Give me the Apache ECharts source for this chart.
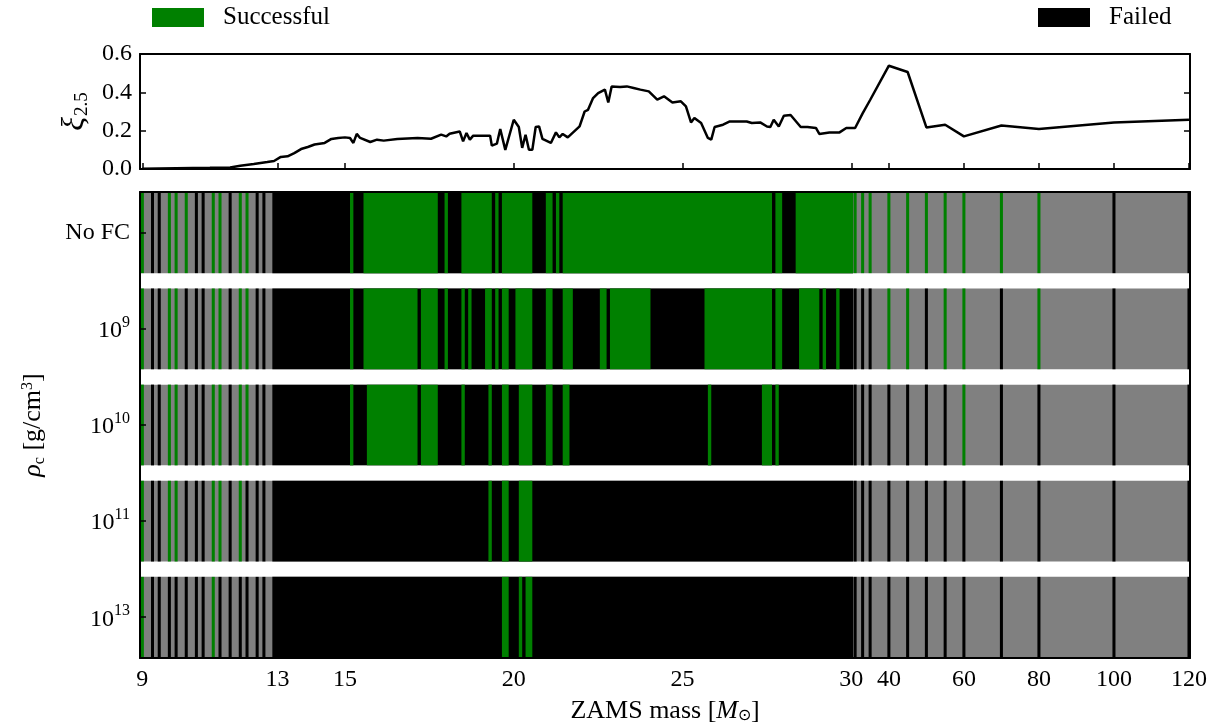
<!DOCTYPE html>
<html>
<head>
<meta charset="utf-8">
<title>Explosion outcome vs ZAMS mass</title>
<script src="https://cdn.jsdelivr.net/npm/echarts@6/dist/echarts.min.js"></script>
<style>
html, body { margin: 0; padding: 0; background: #fff; }
#chart { width: 1214px; height: 726px; }
</style>
</head>
<body>
<div id="chart"></div>
<script>
// compactness xi_2.5 against ZAMS mass (top panel)
const xiMass = [9.0, 10.0, 11.0, 11.6, 11.9, 12.3, 12.7, 12.9, 13.1, 13.3, 13.5, 13.7, 13.9, 14.1, 14.4, 14.6, 14.8, 15.0,
    15.15, 15.25, 15.35, 15.45, 15.75, 15.95, 16.15, 16.55, 17.15, 17.55, 17.85, 18.0, 18.1, 18.4, 18.5, 18.6, 18.7, 18.8,
    19.3, 19.35, 19.5, 19.6, 19.75, 20.0, 20.15, 20.25, 20.35, 20.45, 20.55, 20.65, 20.75, 20.85, 21.1, 21.25, 21.35, 21.45,
    21.6, 21.95, 22.1, 22.2, 22.35, 22.5, 22.7, 22.8, 22.9, 23.15, 23.35, 23.55, 23.75, 24.0, 24.25, 24.45, 24.7, 24.95,
    25.1, 25.25, 25.35, 25.55, 25.75, 25.85, 25.95, 26.2, 26.4, 26.9, 27.05, 27.3, 27.5, 27.6, 27.7, 27.85, 28.0, 28.2,
    28.5, 28.7, 28.95, 29.05, 29.35, 29.65, 29.85, 30.0, 31, 33, 35, 40, 45, 50, 55, 60, 70, 80, 100, 120];
const xiValue = [0.001, 0.004, 0.006, 0.008, 0.017, 0.026, 0.036, 0.042, 0.063, 0.066, 0.083, 0.104, 0.115, 0.128, 0.136, 0.157, 0.162, 0.165,
    0.162, 0.136, 0.183, 0.162, 0.141, 0.153, 0.148, 0.157, 0.162, 0.158, 0.179, 0.170, 0.184, 0.196, 0.144, 0.188, 0.153, 0.174,
    0.174, 0.122, 0.132, 0.209, 0.100, 0.257, 0.219, 0.110, 0.179, 0.100, 0.100, 0.219, 0.222, 0.157, 0.136, 0.191, 0.165, 0.183,
    0.165, 0.222, 0.300, 0.309, 0.370, 0.396, 0.414, 0.347, 0.431, 0.428, 0.431, 0.423, 0.414, 0.405, 0.362, 0.379, 0.347, 0.353,
    0.327, 0.243, 0.266, 0.240, 0.162, 0.153, 0.219, 0.231, 0.248, 0.248, 0.240, 0.243, 0.222, 0.219, 0.257, 0.222, 0.278, 0.282,
    0.219, 0.219, 0.214, 0.183, 0.191, 0.191, 0.214, 0.214, 0.214, 0.290, 0.360, 0.539, 0.506, 0.217, 0.231, 0.170, 0.227, 0.209, 0.243, 0.257];

const tickMasses = [9, 13, 15, 20, 25, 30, 40, 60, 80, 100, 120];
const xiTicks = [0, 0.2, 0.4, 0.6];
const rowLabels = ['No FC', '{b|10}{sup|9}', '{b|10}{sup|10}', '{b|10}{sup|11}', '{b|10}{sup|13}'];

// outcome per central density row, S = successful, F = failed
const lowMasses = [9.0, 9.3, 9.5, 9.8, 10.0, 10.3, 10.6, 10.8, 11.1, 11.3, 11.6, 11.9, 12.1, 12.4, 12.6];
const lowOutcome = [
    'SFFSSSFFSSFSSFF',
    'SFFSSFFFSSFSSFF',
    'SFFSSFFFSSFSSFF',
    'SFFSSFFFSSFSFFF',
    'SFFFFFFFSFFFFFF'
];
// dense grid (0.1 Msun steps): failed unless inside a successful run
const denseRange = [12.9, 30.0];
const denseSuccess = [
    [[15.2, 15.2], [15.6, 17.7], [18.0, 18.0], [18.5, 19.3], [19.5, 19.5], [19.7, 20.5], [21.0, 21.1], [21.3, 21.3],
        [21.5, 27.6], [27.8, 27.9], [28.4, 30.0]],
    [[15.2, 15.2], [15.6, 17.1], [17.3, 17.7], [18.0, 18.0], [18.5, 18.5], [18.7, 18.7], [19.2, 19.3], [19.5, 19.5],
        [19.7, 19.8], [20.1, 20.5], [21.0, 21.1], [21.5, 21.7], [22.6, 22.7], [22.9, 24.0], [25.7, 27.6], [27.8, 27.9],
        [28.5, 29.0], [29.2, 29.2], [29.6, 29.6]],
    [[15.2, 15.2], [15.7, 17.1], [17.3, 17.7], [18.5, 18.5], [19.3, 19.3], [19.7, 19.8], [20.2, 20.5], [21.0, 21.1],
        [21.5, 21.6], [25.8, 25.8], [27.4, 27.6], [27.8, 27.8]],
    [[19.3, 19.3], [19.7, 19.8], [20.2, 20.5]],
    [[19.7, 19.8], [20.2, 20.2], [20.4, 20.5]]
];
const highMasses = [31, 33, 35, 40, 45, 50, 55, 60, 70, 80, 100, 120];
const highOutcome = [
    'SSSSSSSSSSFF',
    'FFFSSFSSFSFF',
    'FFFFFFFSFFFF',
    'FFFFFFFFFFFF',
    'FFFFFFFFFFFF'
];

const FONT = 'Liberation Serif';
const GREEN = '#008000';
const X_MIN = 8.93, X_MAX = 40.03;
const Y_MIN = -0.424, Y_MAX = 4.424;
const ROW_H = 0.84;
const SLOT = 0.05;   // half of a dense model slot
const LINE = 0.045;  // half width of an isolated model line

// above 30 Msun the mass axis is squeezed by a factor 9
function toU(m) { return m <= 30 ? m : 30 + (m - 30) / 9; }
function fromU(u) { return u <= 30 ? u : 30 + (u - 30) * 9; }

const bgData = [], failData = [], okData = [];
for (let r = 0; r < rowLabels.length; r++) {
    bgData.push([X_MIN, X_MAX, r]);
    failData.push([toU(denseRange[0]) - SLOT, toU(denseRange[1]) + SLOT, r]);
    denseSuccess[r].forEach(function(run) {
        okData.push([toU(run[0]) - SLOT, toU(run[1]) + SLOT, r]);
    });
    lowMasses.forEach(function(m, i) {
        (lowOutcome[r][i] === 'S' ? okData : failData).push([toU(m) - LINE, toU(m) + LINE, r]);
    });
    highMasses.forEach(function(m, i) {
        (highOutcome[r][i] === 'S' ? okData : failData).push([toU(m) - LINE, toU(m) + LINE, r]);
    });
}

function renderRect(params, api) {
    const a = api.coord([api.value(0), api.value(2) - ROW_H / 2]);
    const b = api.coord([api.value(1), api.value(2) + ROW_H / 2]);
    return {
        type: 'rect',
        shape: { x: a[0], y: Math.min(a[1], b[1]), width: b[0] - a[0], height: Math.abs(b[1] - a[1]) },
        style: { fill: api.visual('color') }
    };
}

const tickU = tickMasses.map(toU);
const txt = { fontFamily: FONT, fontSize: 24, color: '#000' };
const frameLine = { show: true, onZero: false, lineStyle: { color: '#000', width: 2 } };
const noLine = { show: false };
const rich = {
    b: { fontFamily: FONT, fontSize: 24, color: '#000', verticalAlign: 'bottom' },
    sup: { fontFamily: FONT, fontSize: 16, color: '#000', verticalAlign: 'top', padding: [0, 0, 12, 0] },
    i: { fontFamily: FONT, fontSize: 26, color: '#000', fontStyle: 'italic', verticalAlign: 'top' },
    s: { fontFamily: FONT, fontSize: 16, color: '#000', verticalAlign: 'bottom', padding: [10, 0, 0, 0] },
    n: { fontFamily: FONT, fontSize: 26, color: '#000', verticalAlign: 'top' },
    xi: { fontFamily: FONT, fontSize: 32, color: '#000', fontStyle: 'italic', verticalAlign: 'top' },
    xs: { fontFamily: FONT, fontSize: 19, color: '#000', verticalAlign: 'bottom', padding: [14, 0, 0, 1] }
};
const legendText = { fontFamily: FONT, fontSize: 25, color: '#000', padding: [0, 0, 0, 14] };

const chart = echarts.init(document.getElementById('chart'));
chart.setOption({
    animation: false,
    backgroundColor: '#fff',
    legend: [{
        data: ['Successful'], left: 152, top: 5, padding: 0, icon: 'rect', itemWidth: 52, itemHeight: 19,
        textStyle: legendText
    }, {
        data: ['Failed'], left: 1038, top: 5, padding: 0, icon: 'rect', itemWidth: 52, itemHeight: 19,
        textStyle: legendText
    }],
    grid: [
        { left: 140, right: 24, top: 54, height: 115, outerBoundsMode: 'none' },
        { left: 140, right: 24, top: 192, height: 466, outerBoundsMode: 'none' }
    ],
    xAxis: [{
        gridIndex: 0, type: 'value', min: X_MIN, max: X_MAX, position: 'bottom', z: 10,
        axisLine: frameLine, splitLine: noLine, axisLabel: noLine,
        axisTick: { show: true, inside: true, length: 6, customValues: tickU, lineStyle: { color: '#000', width: 1.5 } }
    }, {
        gridIndex: 0, type: 'value', min: X_MIN, max: X_MAX, position: 'top', z: 10,
        axisLine: frameLine, splitLine: noLine, axisLabel: noLine, axisTick: noLine
    }, {
        gridIndex: 1, type: 'value', min: X_MIN, max: X_MAX, position: 'bottom', z: 10,
        axisLine: frameLine, splitLine: noLine, axisTick: noLine,
        axisLabel: Object.assign({
            customValues: tickU, margin: 10,
            formatter: function(v) { return String(Math.round(fromU(v))); }
        }, txt),
        name: '{n|ZAMS mass [}{i|M}{s|\u2299}{n|]}', nameLocation: 'middle', nameGap: 40,
        nameTextStyle: Object.assign({ rich: rich }, txt)
    }, {
        gridIndex: 1, type: 'value', min: X_MIN, max: X_MAX, position: 'top', z: 10,
        axisLine: frameLine, splitLine: noLine, axisLabel: noLine, axisTick: noLine
    }],
    yAxis: [{
        gridIndex: 0, type: 'value', min: 0, max: 0.6, interval: 0.2, position: 'left', z: 10,
        axisLine: frameLine, splitLine: noLine,
        axisTick: { show: true, inside: true, length: 6, customValues: xiTicks, lineStyle: { color: '#000', width: 1.5 } },
        axisLabel: Object.assign({ margin: 8, formatter: function(v) { return v.toFixed(1); } }, txt),
        name: '{xi|\u03be}{xs|2.5}', nameLocation: 'middle', nameGap: 46, nameRotate: 90,
        nameTextStyle: Object.assign({ rich: rich }, txt)
    }, {
        gridIndex: 0, type: 'value', min: 0, max: 0.6, interval: 0.2, position: 'right', z: 10,
        axisLine: frameLine, splitLine: noLine, axisLabel: noLine,
        axisTick: { show: true, inside: true, length: 6, customValues: xiTicks, lineStyle: { color: '#000', width: 1.5 } }
    }, {
        gridIndex: 1, type: 'value', min: Y_MIN, max: Y_MAX, inverse: true, position: 'left', z: 10,
        axisLine: frameLine, splitLine: noLine,
        axisTick: { show: true, inside: true, length: 6, customValues: [0, 1, 2, 3, 4], lineStyle: { color: '#000', width: 1.5 } },
        axisLabel: Object.assign({
            margin: 10, customValues: [0, 1, 2, 3, 4], rich: rich,
            formatter: function(v) { return rowLabels[Math.round(v)]; }
        }, txt),
        name: '{i|\u03c1}{s|c}{n| [g/cm}{sup|3}{n|]}', nameLocation: 'middle', nameGap: 92, nameRotate: 90,
        nameTextStyle: Object.assign({ rich: rich }, txt)
    }, {
        gridIndex: 1, type: 'value', min: Y_MIN, max: Y_MAX, inverse: true, position: 'right', z: 10,
        axisLine: frameLine, splitLine: noLine, axisLabel: noLine, axisTick: noLine
    }],
    series: [{
        name: 'xi', type: 'line', xAxisIndex: 0, yAxisIndex: 0, showSymbol: false,
        lineStyle: { color: '#000', width: 2.5 }, itemStyle: { color: '#000' },
        data: xiMass.map(function(m, i) { return [toU(m), xiValue[i]]; })
    }, {
        name: 'background', type: 'custom', xAxisIndex: 2, yAxisIndex: 2,
        itemStyle: { color: '#808080' }, renderItem: renderRect, data: bgData
    }, {
        name: 'Failed', type: 'custom', xAxisIndex: 2, yAxisIndex: 2,
        itemStyle: { color: '#000' }, renderItem: renderRect, data: failData
    }, {
        name: 'Successful', type: 'custom', xAxisIndex: 2, yAxisIndex: 2,
        itemStyle: { color: GREEN }, renderItem: renderRect, data: okData
    }]
});
</script>
</body>
</html>
